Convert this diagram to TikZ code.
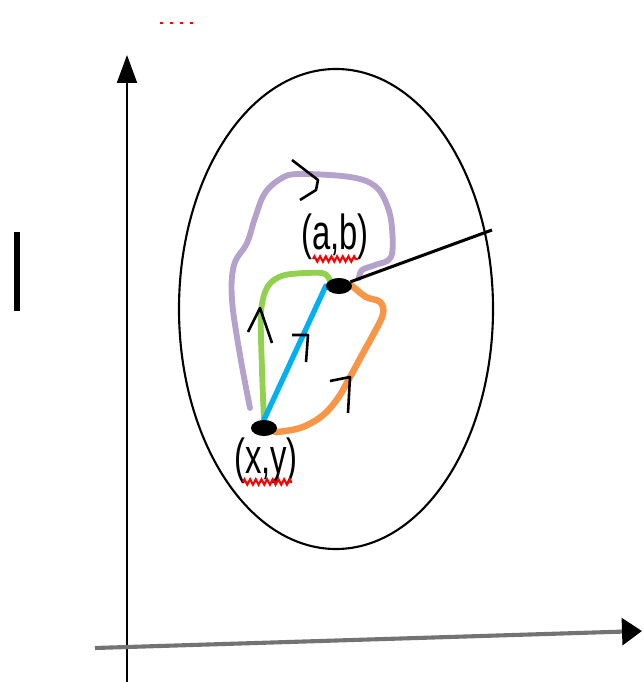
\documentclass[tikz,border=0pt]{standalone}
\usepackage{fontspec}
\usepackage{graphicx}
\setmainfont{Liberation Sans}
\usetikzlibrary{arrows.meta, shapes.geometric, backgrounds, decorations.pathmorphing}

\definecolor{lavender}{RGB}{180,162,204}
\definecolor{leaf}{RGB}{146,208,80}
\definecolor{sky}{RGB}{0,176,240}
\definecolor{peach}{RGB}{247,150,70}

\begin{document}
\begin{tikzpicture}[
    x=0.03cm, y=-0.03cm,
    axis/.style={line width=1.8pt},
    blob/.style={ellipse, fill=black, inner sep=0pt, minimum width=0.78cm, minimum height=0.48cm},
    coordlabel/.style={font=\fontsize{28}{30}\selectfont, inner sep=0pt},
    route/.style={line width=5pt, line cap=round, line join=round},
    dirmark/.style={line width=2.2pt, line join=round},
    squiggle/.style={red, line width=1.8pt, decorate, decoration={zigzag, segment length=0.17cm, amplitude=0.08cm}}
]

\useasboundingbox (0,0) rectangle (643,682);

% Axes
\coordinate (origin) at (127,682);
\coordinate (ytip) at (127,55);
\coordinate (xstart) at (95,648);
\coordinate (xtip) at (642,631);
\draw[axis, -{Triangle[length=0.84cm, width=0.6cm]}] (origin) -- (ytip);
\draw[axis, line width=3.5pt, black!55, -{Triangle[length=0.6cm, width=0.8cm, color=black]}] (xstart) -- (xtip);

% Region round (a,b)
\node[ellipse, draw, line width=1.8pt, minimum width=9.42cm, minimum height=14.4cm, inner sep=0pt] (region) at (336,309) {};

% Points
\node[blob] (ab) at (339,286) {};
\node[blob] (xy) at (264,428) {};
\coordinate (rim) at (492,230);

% Radius
\draw[line width=2.6pt] (ab) -- (rim);

% Routes from (x,y) to (a,b)
\begin{scope}[on background layer]
\draw[route, lavender] plot[smooth, tension=0.6] coordinates {(250,408) (240,355) (232,300) (234,265) (247,243) (255,218) (265,193) (282,178) (300,174) (350,177) (375,186) (387,205) (392,228) (391,257) (375,265) (362,270) (359,278)};
\draw[route, leaf] plot[smooth, tension=0.5] coordinates {(xy.north) (262,370) (261,312) (268,286) (285,275) (322,273) (ab.north west)};
\draw[route, sky, line width=4.5pt] (xy.north) -- (ab.west);
\draw[route, peach, line width=5.5pt] plot[smooth, tension=0.6] coordinates {(xy.-20) (300,428) (322,416) (338,398) (350,377) (362,355) (373,335) (383,314) (380,302) (366,297) (ab.east)};
\end{scope}

% Direction marks
\draw[dirmark] (248,332) -- (260,308) -- (272,343);
\draw[dirmark] (292,335) -- (308,335) -- (306,362);
\draw[dirmark] (330,381) -- (350,377) -- (348,413);
\draw[dirmark] (292,160) -- (318,180) -- (316,190) -- (300,200);

% Labels
\node[coordlabel] (ablabel) at (335,237) {\scalebox{1}[1.5]{(a,b)}};
\node[coordlabel] (xylabel) at (266,461) {\scalebox{1}[1.5]{(x,y)}};
\draw[squiggle] (313,259) -- (358,259);
\draw[squiggle] (243,482) -- (292,482);

% Marks at the edge
\draw[red, line width=2pt, dash pattern=on 0.08cm off 0.22cm] (160,23) -- (194,23);
\draw[line width=4.5pt] (17,232) -- (17,311);

\end{tikzpicture}
\end{document}
